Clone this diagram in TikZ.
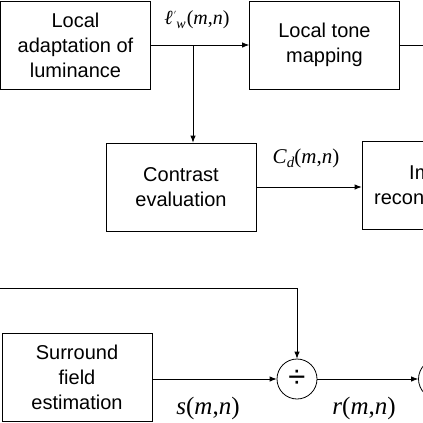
\documentclass[tikz,border=0pt]{standalone}
\usepackage{fontspec}
\setmainfont{Liberation Sans}
\newfontfamily\lblfont{Liberation Serif}
\usetikzlibrary{arrows.meta}

\begin{document}
\begin{tikzpicture}
[x=1pt,y=1pt,line width=0.8pt,>={Latex[length=7pt,width=5.5pt]},%
  every node/.style={font=\fontsize{20}{25}\selectfont,align=center},%
  block/.style={draw,minimum width=150pt,minimum height=88pt,inner sep=0pt},%
  lbl/.style={font=\lblfont\fontsize{20}{22}\selectfont,inner sep=0pt},%
  op/.style={draw,circle,minimum size=40pt,inner sep=0pt}]
\useasboundingbox (0,0) rectangle (423,-423);
\clip (0,0) rectangle (423,-423);
% blocks
\node[block] (adapt) at (75.5,-45) {Local\\adaptation of\\luminance};
\node[block] (tone) at (324.5,-45) {Local tone\\mapping};
\node[block] (contrast) at (181,-187) {Contrast\\evaluation};
\node[block] (recon) at (437,-185.5) {Image\\reconstruction};
\node[block] (surround) at (77,-377.5) {Surround\\field\\estimation};
\node[op] (div) at (297,-379) {\fontsize{31}{31}\selectfont ÷};
\node[op] (next) at (438.5,-379) {};
% free ends
\coordinate (split) at (193,-45);
\coordinate (outR) at (423,-45);
\coordinate (inL) at (0,-288);
% connectors
\draw[->] (adapt) -- (tone);
\draw (tone) -- (outR);
\draw[->] (split) -- (contrast.north -| split);
\draw[->] (contrast.east |- 0,-187) -- (recon.west |- 0,-187);
\draw[->] (inL) -| (div);
\draw[->] (surround.east |- div) -- (div);
\draw[->] (div) -- (next);
% labels
\node[lbl] at (197,-20) {\textit{ℓ}\hspace{1pt}\raisebox{7pt}{\fontsize{8}{8}\selectfont$'$}\raisebox{-4pt}{\fontsize{14}{14}\selectfont\textit{w}}\hspace{1pt}(\textit{m},\textit{n})};
\node[lbl,font=\lblfont\fontsize{21}{22}\selectfont] at (306,-158) {\textit{C}\raisebox{-4pt}{\fontsize{15}{15}\selectfont\textit{d}}(\textit{m},\textit{n})};
\node[lbl,font=\lblfont\fontsize{25}{26}\selectfont] at (208,-408) {\textit{s}(\textit{m},\textit{n})};
\node[lbl,font=\lblfont\fontsize{25}{26}\selectfont] at (364,-408) {\textit{r}(\textit{m},\textit{n})};
\end{tikzpicture}
\end{document}
